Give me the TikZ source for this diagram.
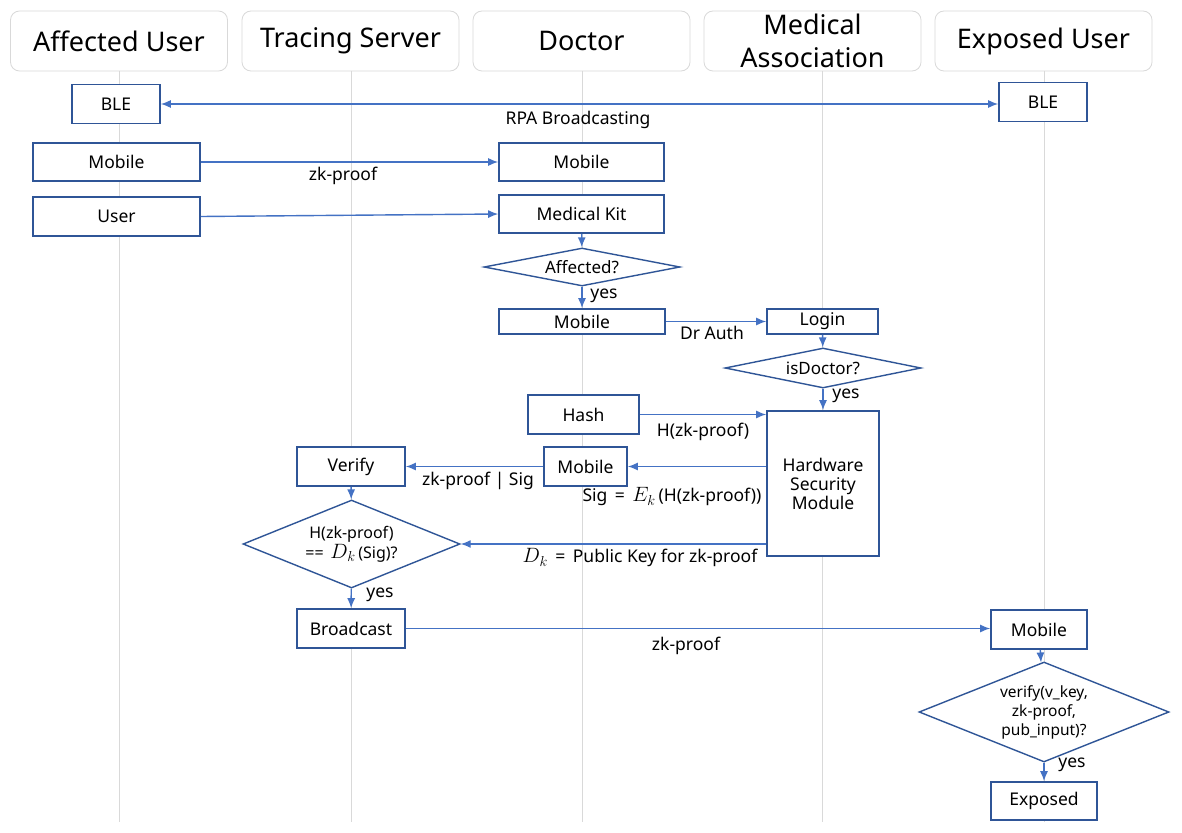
\documentclass[tikz,border=0pt]{standalone}
\usepackage{fontspec}
\setmainfont{Noto Sans}
\usetikzlibrary{shapes.geometric,arrows.meta}
\definecolor{boxc}{HTML}{2F5597}
\definecolor{arr}{HTML}{4472C4}
\definecolor{lane}{HTML}{D9D9D9}
\newcommand{\mymathbig}[1]{{\fontsize{20}{20}\selectfont$#1$}}
\begin{document}
\begin{tikzpicture}[x=1pt,y=-1pt,
 hdr/.style={draw=lane, rounded corners=9pt, minimum width=217pt, minimum height=60pt, font=\fontsize{27}{31}\selectfont, align=center, line width=0.8pt, inner sep=0pt},
 bx/.style={draw=boxc, line width=1.6pt, fill=white, font=\fontsize{17.5}{20}\selectfont, inner sep=0pt, align=center},
 dm/.style={diamond, draw=boxc, line width=1.4pt, fill=white, inner sep=0pt, align=center, font=\fontsize{17}{20}\selectfont},
 ar/.style={draw=arr, line width=1.4pt, -{Latex[length=10pt,width=8pt]}},
 lbl/.style={font=\fontsize{17.5}{20}\selectfont, inner sep=0pt},
 life/.style={draw=lane, line width=0.8pt}]
\useasboundingbox[fill=white] (0,0) rectangle (1182,832);
% headers
\node[hdr] (hA) at (119,41) {Affected User};
\node[hdr] (hT) at (350.5,41) {Tracing Server};
\node[hdr] (hD) at (581.5,41) {Doctor};
\node[hdr] (hM) at (812.5,41) {Medical\\[2pt]Association};
\node[hdr] (hE) at (1043.5,41) {Exposed User};
% lifelines
\coordinate (eA) at (119,822);
\coordinate (eT) at (351,822);
\coordinate (eD) at (582,822);
\coordinate (eM) at (822,822);
\coordinate (eE) at (1044,822);
\draw[life] (119,71) -- (eA);
\draw[life] (351,71) -- (eT);
\draw[life] (582,71) -- (eD);
\draw[life] (822,71) -- (eM);
\draw[life] (1044,71) -- (eE);
% boxes
\node[bx, minimum width=88pt, minimum height=39pt] (bleL) at (116,104) {BLE};
\node[bx, minimum width=88pt, minimum height=39pt] (bleR) at (1043,102) {BLE};
\node[bx, minimum width=167pt, minimum height=38pt] (mobA) at (116.5,162) {Mobile};
\node[bx, minimum width=165pt, minimum height=38pt] (mobD) at (581.5,162) {Mobile};
\node[bx, minimum width=167pt, minimum height=39pt] (user) at (116.5,216.5) {User};
\node[bx, minimum width=165pt, minimum height=38pt] (kit) at (581.5,214) {Medical Kit};
\node[dm, minimum width=196pt, minimum height=38pt, shape aspect=5.2] (aff) at (582,267) {Affected?};
\node[bx, minimum width=166pt, minimum height=25pt] (mob2) at (582,321.5) {Mobile};
\node[bx, minimum width=111pt, minimum height=25pt] (login) at (822.5,321.5) {Login};
\node[dm, minimum width=196pt, minimum height=40pt, shape aspect=4.9] (isdoc) at (823,368) {isDoctor?};
\node[bx, minimum width=112pt, minimum height=145pt] (hsm) at (823,483.5) {Hardware\\[-1pt]Security\\[-1pt]Module};
\node[bx, minimum width=111pt, minimum height=39pt] (hash) at (583.5,414.5) {Hash};
\node[bx, minimum width=83pt, minimum height=39pt] (mob3) at (585.5,466.5) {Mobile};
\node[bx, minimum width=108pt, minimum height=39pt] (ver) at (351,466.5) {Verify};
\node[dm, minimum width=217pt, minimum height=88pt, shape aspect=2.47, font=\fontsize{16}{20}\selectfont] (chk) at (351.5,544) {H(zk-proof)\\== \,\mymathbig{D_k}\,(Sig)?};
\node[bx, minimum width=108pt, minimum height=39pt] (bc) at (351,628.5) {Broadcast};
\node[bx, minimum width=96pt, minimum height=39pt] (mobE) at (1039,629.5) {Mobile};
\node[dm, minimum width=250pt, minimum height=100pt, shape aspect=2.5, font=\fontsize{15.5}{19}\selectfont] (vfy) at (1044,712) {verify(v\_key,\\zk-proof,\\pub\_input)?};
\node[bx, minimum width=106pt, minimum height=38pt] (exp) at (1044,801) {Exposed};
% connectors
\draw[draw=arr, line width=1.4pt, {Latex[length=10pt,width=8pt]}-{Latex[length=10pt,width=8pt]}] (bleL.east) -- (bleL.east -| bleR.west);
\draw[ar] (mobA) -- (mobD);
\draw[ar] (user.east) -- (kit.west);
\draw[ar] (kit) -- (aff);
\draw[ar] (aff) -- (mob2);
\draw[ar] (mob2) -- (login);
\draw[ar] (login) -- (isdoc);
\draw[ar] (isdoc.south) -- (isdoc.south |- hsm.north);
\draw[ar] (hash.east) -- (hash.east -| hsm.west);
\draw[ar] (hsm.west |- mob3.east) -- (mob3.east);
\draw[ar] (mob3) -- (ver);
\draw[ar] (ver) -- (chk);
\draw[ar] (hsm.west |- chk.east) -- (chk.east);
\draw[ar] (chk) -- (bc);
\draw[ar] (bc.east) -- (bc.east -| mobE.west);
\draw[ar] (mobE) -- (vfy);
\draw[ar] (vfy) -- (exp);
% labels
\node[lbl] (l1) at (578,120) {RPA Broadcasting};
\node[lbl] (l2) at (343,176) {zk-proof};
\node[lbl] (l3) at (604,296) {yes};
\node[lbl] (l4) at (712,333) {Dr Auth};
\node[lbl] (l5) at (846,396) {yes};
\node[lbl] (l6) at (703,432) {H(zk-proof)};
\node[lbl] (l7) at (478,481) {zk-proof | Sig};
\node[lbl] (l8) at (672,497) {Sig \,=\, \mymathbig{E_k}\,(H(zk-proof))};
\node[lbl] (l9) at (640,558) {\mymathbig{D_k} \,=\, Public Key for zk-proof};
\node[lbl] (l10) at (380,595) {yes};
\node[lbl] (l11) at (686,646) {zk-proof};
\node[lbl] (l12) at (1072,765) {yes};
\end{tikzpicture}
\end{document}
